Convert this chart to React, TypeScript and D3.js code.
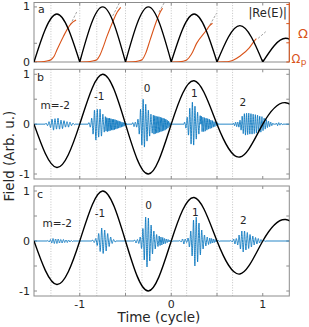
import * as d3 from 'd3'

const svgWidth = 309
const svgHeight = 327

// plot frame (px)
const plotLeft = 34
const plotRight = 289.3
const panelTops = [2.5, 69.3, 186]
const panelBottoms = [62, 179, 296]

// time axis
const timeDomain = [-1.5, 1.29]
const timeTicks = [-1, -0.5, 0, 0.5, 1]
const timeLabels = [-1, 0, 1]
const gridTimes = [-1.315, -1, -0.814, -0.5, -0.32, 0, 0.168, 0.5, 0.67]

// driving field, read at zeros and half-cycle peaks
const fieldT = [-1.5, -1.25, -1, -0.75, -0.5, -0.25, 0, 0.25, 0.5, 0.75, 1, 1.25, 1.5]
const fieldV = [0, -0.87, 0, 1.0, 0, -1.0, 0, 0.87, 0, -0.66, 0, 0.43, 0]
const fieldTicks = [-1, -0.5, 0, 0.5, 1]
const fieldLabels = [-1, 0, 1]

// panel a
const absTicks = [0, 0.34, 1]
const absLabels = [0, 1]
const omegaTicks = [0, 1, 2, 3]
const omegaCurves = [
  [[-1.5, 0], [-1.42, 0.01], [-1.36, 0.05], [-1.315, 0.12], [-1.28, 0.3], [-1.25, 0.62], [-1.18, 1.32], [-1.105, 1.93], [-1.07, 2.1], [-1.04, 2.19]],
  [[-1, 0], [-0.92, 0.01], [-0.86, 0.05], [-0.814, 0.12], [-0.78, 0.35], [-0.75, 0.7], [-0.704, 1.32], [-0.632, 2.18], [-0.59, 2.6], [-0.552, 2.85]],
  [[-0.5, 0], [-0.42, 0.01], [-0.36, 0.05], [-0.32, 0.12], [-0.28, 0.45], [-0.231, 1.15], [-0.16, 2.15], [-0.12, 2.6], [-0.095, 2.8]],
  [[0, 0], [0.08, 0.01], [0.13, 0.04], [0.168, 0.1], [0.22, 0.4], [0.277, 0.97], [0.386, 1.67], [0.42, 1.9], [0.451, 2.02]],
  [[0.5, 0], [0.58, 0.01], [0.63, 0.03], [0.67, 0.08], [0.749, 0.3], [0.85, 0.72], [0.9, 1.05], [0.93, 1.22]]
]
const omegaDashes = [
  [-1.104, 1.93, -1.032, 2.62],
  [-0.64, 2.4, -0.565, 3.1],
  [-0.135, 2.6, -0.075, 3.1],
  [0.422, 1.93, 0.495, 2.54],
  [0.949, 1.23, 1.033, 1.58]
]

// emitted bursts, panel b: start time, half-period, peak per half-cycle
const burstStartB = [-1.377, -0.908, -0.724, -0.428, -0.2, 0.1385, 0.324, 0.673, 1.142]
const burstStepB = [0.0164, 0.0153, 0.0076, 0.0142, 0.0076, 0.0142, 0.0087, 0.012, 0.0131]
const burstAmpB = [
  [0.02, 0.03, 0.05, 0.07, 0.1, 0.12, 0.11, 0.1, 0.12, 0.1, 0.08, 0.09, 0.07, 0.06, 0.05, 0.06, 0.04, 0.03, 0.02, 0.01],
  [0.03, 0.06, 0.12, 0.2, 0.28, 0.32, 0.3, 0.26, 0.3, 0.24, 0.2, 0.16],
  [0.15, 0.14, 0.13, 0.15, 0.12, 0.14, 0.12, 0.13, 0.11, 0.12, 0.1, 0.12, 0.1, 0.11, 0.09, 0.1, 0.08, 0.09, 0.07, 0.08, 0.06, 0.07, 0.05, 0.06, 0.04, 0.05, 0.03, 0.04, 0.03, 0.02, 0.02, 0.01],
  [0.03, 0.05, 0.04, 0.06, 0.1, 0.2, 0.3, 0.42, 0.5, 0.46, 0.4, 0.34, 0.28, 0.24, 0.2, 0.18],
  [0.18, 0.2, 0.17, 0.19, 0.16, 0.18, 0.15, 0.17, 0.15, 0.16, 0.14, 0.15, 0.13, 0.14, 0.12, 0.13, 0.11, 0.12, 0.1, 0.1, 0.08, 0.08, 0.06, 0.05, 0.03, 0.02],
  [0.04, 0.08, 0.14, 0.22, 0.32, 0.4, 0.44, 0.42, 0.36, 0.3, 0.24, 0.2, 0.17],
  [0.16, 0.15, 0.14, 0.15, 0.13, 0.14, 0.12, 0.12, 0.11, 0.1, 0.1, 0.09, 0.08, 0.08, 0.07, 0.06, 0.05, 0.05, 0.04, 0.03, 0.03, 0.02, 0.01],
  [0.02, 0.03, 0.04, 0.05, 0.04, 0.06, 0.08, 0.12, 0.16, 0.19, 0.21, 0.22, 0.22, 0.21, 0.22, 0.2, 0.21, 0.2, 0.2, 0.19, 0.19, 0.18, 0.18, 0.17, 0.16, 0.16, 0.15, 0.13, 0.12, 0.1, 0.09, 0.07, 0.06, 0.05, 0.04, 0.03, 0.02, 0.01],
  [0.02, 0.03, 0.03, 0.02, 0.02, 0.01]
]

// emitted bursts, panel c
const burstStartC = [-1.356, -0.867, -0.4075, -0.137, 0.0855, 0.416, 0.6435]
const burstStepC = [0.0142, 0.0164, 0.015, 0.0098, 0.015, 0.0098, 0.015]
const burstAmpC = [
  [0.01, 0.02, 0.03, 0.04, 0.05, 0.05, 0.04, 0.05, 0.04, 0.04, 0.03, 0.04, 0.03, 0.03, 0.02, 0.03, 0.02, 0.02, 0.01, 0.01],
  [0.02, 0.03, 0.05, 0.09, 0.15, 0.21, 0.26, 0.25, 0.22, 0.2, 0.15, 0.11, 0.08, 0.05, 0.03, 0.02],
  [0.02, 0.04, 0.03, 0.05, 0.08, 0.15, 0.25, 0.38, 0.48, 0.52, 0.46, 0.4, 0.32, 0.26, 0.2, 0.16, 0.13, 0.11],
  [0.1, 0.09, 0.08, 0.08, 0.07, 0.06, 0.05, 0.05, 0.04, 0.03, 0.03, 0.02, 0.02, 0.01, 0.01, 0.01],
  [0.01, 0.02, 0.04, 0.06, 0.04, 0.03, 0.06, 0.12, 0.2, 0.3, 0.42, 0.5, 0.48, 0.42, 0.36, 0.28, 0.22, 0.16, 0.12, 0.1, 0.08, 0.07],
  [0.06, 0.05, 0.05, 0.04, 0.04, 0.03, 0.03, 0.02, 0.02, 0.01, 0.01, 0.01],
  [0.01, 0.02, 0.04, 0.06, 0.05, 0.08, 0.12, 0.16, 0.2, 0.22, 0.2, 0.18, 0.17, 0.15, 0.13, 0.12, 0.1, 0.08, 0.07, 0.06, 0.05, 0.04, 0.03, 0.02, 0.02, 0.01]
]

// order labels [time, field]
const orderNames = ['m=-2', '-1', '0', '1', '2']
const orderPosB = [[-1.268, 0.38], [-0.788, 0.56], [-0.265, 0.72], [0.253, 0.62], [0.782, 0.44]]
const orderPosC = [[-1.246, 0.36], [-0.778, 0.56], [-0.249, 0.72], [0.264, 0.58], [0.787, 0.42]]

const blue = '#0072BD'
const orange = '#D95319'
const axisGrey = '#8c8c8c'
const textColor = '#262626'
const font = 'DejaVu Sans, sans-serif'

function signal(starts, steps, amps) {
  const pts = [[timeDomain[0], 0]]
  starts.forEach((s, k) => {
    amps[k].forEach((a, i) => {
      pts.push([s + i * steps[k], 0])
      pts.push([s + (i + 0.5) * steps[k], i % 2 ? -a : a])
    })
    pts.push([s + amps[k].length * steps[k], 0])
  })
  pts.push([timeDomain[1], 0])
  pts.sort((p, q) => p[0] - q[0])
  return pts.filter((p, i) => i === 0 || p[0] - pts[i - 1][0] > 1e-4)
}

export default function App() {
  const x = d3.scaleLinear().domain(timeDomain).range([plotLeft, plotRight])
  const yA = d3.scaleLinear().domain([0, 1.08]).range([panelBottoms[0], panelTops[0]])
  const yW = d3.scaleLinear().domain([0, 3.1]).range([panelBottoms[0], panelTops[0]])
  const yB = d3.scaleLinear().domain([-1.1, 1.1]).range([panelBottoms[1], panelTops[1]])
  const yC = d3.scaleLinear().domain([-1.1, 1.1]).range([panelBottoms[2], panelTops[2]])

  const fieldPts = fieldT.map((t, i) => [t, fieldV[i]])

  const absPath = d3.range(0, fieldT.length - 2, 2).map(k => {
    const seg = [[fieldT[k], 0], [fieldT[k + 1], Math.abs(fieldV[k + 1])], [fieldT[k + 2], 0]]
    return d3.line().x(d => x(d[0])).y(d => yA(d[1])).curve(d3.curveNatural)(seg)
  }).join('')

  const fieldLine = y => d3.line().x(d => x(d[0])).y(d => y(d[1])).curve(d3.curveNatural)(fieldPts)
  const blueLine = (y, pts) => d3.line().x(d => x(d[0])).y(d => y(d[1])).curve(d3.curveMonotoneX)(pts)
  const omegaLine = d3.line().x(d => x(d[0])).y(d => yW(d[1])).curve(d3.curveMonotoneX)

  const sigB = signal(burstStartB, burstStepB, burstAmpB)
  const sigC = signal(burstStartC, burstStepC, burstAmpC)

  const frame = (i, leftTicks, yScale, rightColor) => (
    <g>
      {gridTimes.map(t => (
        <line key={t} x1={x(t)} x2={x(t)} y1={panelTops[i]} y2={panelBottoms[i]}
          stroke="#b5b5b5" strokeWidth={0.8} strokeDasharray="1,1.6" />
      ))}
      {timeTicks.map(t => (
        <g key={'xt' + t}>
          <line x1={x(t)} x2={x(t)} y1={panelBottoms[i]} y2={panelBottoms[i] - 3} stroke={axisGrey} />
          <line x1={x(t)} x2={x(t)} y1={panelTops[i]} y2={panelTops[i] + 3} stroke={axisGrey} />
        </g>
      ))}
      {leftTicks.map(v => (
        <g key={'yt' + v}>
          <line x1={plotLeft} x2={plotLeft + 3} y1={yScale(v)} y2={yScale(v)} stroke={axisGrey} />
          {rightColor ? null : (
            <line x1={plotRight} x2={plotRight - 3} y1={yScale(v)} y2={yScale(v)} stroke={axisGrey} />
          )}
        </g>
      ))}
      <rect x={plotLeft} y={panelTops[i]} width={plotRight - plotLeft}
        height={panelBottoms[i] - panelTops[i]} fill="none" stroke={axisGrey} strokeWidth={1} />
    </g>
  )

  return (
    <svg width={svgWidth} height={svgHeight} viewBox={`0 0 ${svgWidth} ${svgHeight}`}
      style={{ position: 'absolute', left: 0, top: 0, background: '#fff' }}
      fontFamily={font}>
      <defs>
        {[0, 1, 2].map(i => (
          <clipPath id={'clip' + i} key={i}>
            <rect x={plotLeft} y={panelTops[i]} width={plotRight - plotLeft} height={panelBottoms[i] - panelTops[i]} />
          </clipPath>
        ))}
      </defs>

      {/* panel a */}
      {frame(0, absTicks, yA, orange)}
      <g clipPath="url(#clip0)">
        {omegaDashes.map((d, i) => (
          <line key={i} x1={x(d[0])} y1={yW(d[1])} x2={x(d[2])} y2={yW(d[3])}
            stroke="#9a9a9a" strokeWidth={0.9} strokeDasharray="2.5,1.5" />
        ))}
        {omegaCurves.map((c, i) => (
          <path key={i} d={omegaLine(c)} fill="none" stroke={orange} strokeWidth={1.1} />
        ))}
        <path d={absPath} fill="none" stroke="#000" strokeWidth={1.4} />
      </g>
      <line x1={plotRight} x2={plotRight} y1={panelTops[0]} y2={panelBottoms[0]} stroke={orange} strokeWidth={1} />
      {omegaTicks.map(v => (
        <line key={v} x1={plotRight} x2={plotRight - 3} y1={yW(v)} y2={yW(v)} stroke={orange} />
      ))}
      {absLabels.map(v => (
        <text key={v} x={30} y={yA(v)} textAnchor="end" dominantBaseline="central"
          fontSize={11} fill={textColor}>{v}</text>
      ))}
      <text x={38} y={9} dominantBaseline="central" fontSize={11} fill={textColor}>a</text>
      <text x={287} y={13} textAnchor="end" dominantBaseline="central" fontSize={11.5} fill={textColor}>|Re(E)|</text>
      <text x={303} y={33} textAnchor="middle" dominantBaseline="central" fontSize={13} fill={orange}>Ω</text>
      <text x={296} y={58.5} textAnchor="middle" dominantBaseline="central" fontSize={11.5} fill={orange}>Ω</text>
      <text x={303.5} y={62} textAnchor="middle" dominantBaseline="central" fontSize={9} fill={orange}>p</text>

      {/* panels b and c */}
      {[[1, yB, sigB, orderPosB, 'b'], [2, yC, sigC, orderPosC, 'c']].map(([i, y, sig, pos, letter]) => (
        <g key={letter}>
          {frame(i, fieldTicks, y, null)}
          <g clipPath={`url(#clip${i})`}>
            <path d={blueLine(y, sig)} fill="none" stroke={blue} strokeWidth={0.85} strokeLinejoin="round" />
            <path d={fieldLine(y)} fill="none" stroke="#000" strokeWidth={1.4} />
          </g>
          {fieldLabels.map(v => (
            <text key={v} x={30} y={y(v)} textAnchor="end" dominantBaseline="central"
              fontSize={11} fill={textColor}>{v}</text>
          ))}
          <text x={37} y={panelTops[i] + 8} dominantBaseline="central" fontSize={11} fill={textColor}>{letter}</text>
          {orderNames.map((n, k) => (
            <text key={n} x={x(pos[k][0])} y={y(pos[k][1])} textAnchor="middle" dominantBaseline="central"
              fontSize={10.5} fill={textColor}>{n}</text>
          ))}
        </g>
      ))}

      {timeLabels.map(t => (
        <text key={t} x={x(t)} y={304} textAnchor="middle" dominantBaseline="central"
          fontSize={11} fill={textColor}>{t}</text>
      ))}
      <text x={159} y={317} textAnchor="middle" dominantBaseline="central" fontSize={13.5} fill={textColor}>Time (cycle)</text>
      <text transform="translate(9,156) rotate(-90)" textAnchor="middle" dominantBaseline="central"
        fontSize={13.5} fill={textColor}>Field (Arb. u.)</text>
    </svg>
  )
}
